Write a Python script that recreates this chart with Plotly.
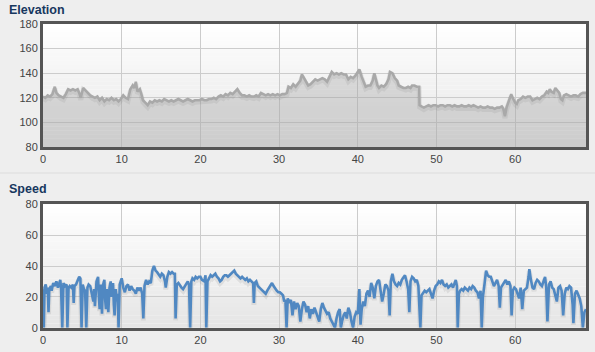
import plotly.graph_objects as go

# ---------------- data ----------------
elev_x = [0.0,0.3,0.6,0.9,1.2,1.5,1.7,2.0,2.3,2.6,2.9,3.2,3.5,3.8,4.1,4.4,4.6,4.8,5.1,5.4,5.7,6.0,6.3,6.6,6.9,7.2,7.5,7.8,8.1,8.4,8.7,9.0,9.3,9.6,9.9,10.2,10.5,10.8,11.1,11.4,11.6,11.8,12.0,12.3,12.5,12.7,13.0,13.3,13.6,13.9,14.2,14.5,14.8,15.1,15.4,15.7,16.0,16.3,16.6,16.9,17.2,17.5,17.8,18.1,18.4,18.7,19.0,19.3,19.6,19.9,20.2,20.5,20.8,21.1,21.4,21.7,22.0,22.3,22.6,22.9,23.2,23.5,23.8,24.1,24.4,24.7,25.0,25.3,25.6,25.9,26.2,26.5,26.8,27.1,27.4,27.7,28.0,28.3,28.6,28.9,29.2,29.5,29.8,30.1,30.4,30.7,31.0,31.2,31.5,31.8,32.1,32.4,32.7,32.9,33.1,33.4,33.7,34.0,34.3,34.6,34.9,35.2,35.5,35.8,36.1,36.4,36.7,37.0,37.3,37.6,37.9,38.2,38.5,38.8,39.1,39.4,39.7,40.0,40.2,40.5,40.8,41.0,41.3,41.6,41.9,42.1,42.3,42.5,42.7,43.0,43.3,43.6,43.9,44.1,44.4,44.7,45.0,45.2,45.5,45.8,46.1,46.4,46.7,46.9,47.2,47.5,47.8,47.85,48.1,48.4,48.7,49.0,49.3,49.6,49.9,50.2,50.5,50.8,51.1,51.4,51.7,52.0,52.3,52.6,52.9,53.2,53.5,53.8,54.1,54.4,54.7,55.0,55.3,55.6,55.9,56.2,56.5,56.8,57.1,57.4,57.7,58.0,58.3,58.5,58.7,58.9,59.1,59.3,59.5,59.6,59.8,60.0,60.2,60.4,60.7,61.0,61.3,61.6,61.9,62.2,62.5,62.8,63.1,63.4,63.7,64.0,64.2,64.4,64.6,64.9,65.1,65.3,65.6,65.8,66.0,66.2,66.5,66.8,67.1,67.4,67.7,68.0,68.3,68.6,69.0]
elev_y = [121,120,122,121,123,129,124,122,121,120,123,127,126,127,126,127,124,120,128,126,124,122,121,120,121,118,120,117,119,118,120,118,119,117,119,122,120,119,127,130,128,133,125,127,123,118,116,114,117,116,118,117,118,117,119,118,117,118,117,118,119,118,117,118,119,118,117,118,118,118,119,118,118,119,119,120,119,121,122,121,123,122,124,123,125,127,124,122,122,121,122,121,121,122,121,124,123,122,123,122,123,122,123,122,123,123,124,129,128,131,129,132,134,139,137,134,130,131,133,135,134,135,136,135,133,137,141,139,140,139,140,139,139,135,137,136,138,141,143,137,131,129,130,130,134,140,135,130,128,130,129,131,135,141,140,136,134,130,129,128,128,129,128,130,130,129,129,114,113,112,113,114,113,114,114,113,114,114,113,114,114,113,114,113,113,114,113,113,114,113,114,113,112,113,112,112,113,112,112,111,112,112,113,111,105,112,116,121,123,121,118,116,115,118,119,121,120,121,121,118,119,120,119,121,122,125,124,127,125,124,128,126,124,119,118,122,123,122,121,122,122,121,123,124,124]

speed_x = [0.0,0.05,0.1,0.2,0.35,0.5,0.6,0.7,0.8,1.0,1.1,1.3,1.5,1.7,1.9,2.1,2.2,2.3,2.45,2.6,2.8,3.0,3.1,3.25,3.4,3.6,3.8,3.9,4.0,4.2,4.4,4.6,4.75,4.9,5.05,5.2,5.35,5.5,5.65,5.8,6.0,6.2,6.4,6.5,6.6,6.8,7.0,7.1,7.2,7.35,7.5,7.6,7.8,7.9,8.0,8.1,8.3,8.45,8.6,8.7,8.9,9.0,9.1,9.25,9.4,9.5,9.6,9.75,9.9,10.0,10.2,10.4,10.6,10.8,11.0,11.2,11.4,11.6,11.8,12.0,12.2,12.4,12.6,12.75,12.9,13.1,13.3,13.5,13.7,13.9,14.1,14.3,14.5,14.7,14.9,15.1,15.3,15.5,15.6,15.8,16.0,16.2,16.4,16.6,16.75,16.85,17.0,17.2,17.4,17.6,17.8,18.0,18.2,18.4,18.55,18.7,18.85,19.0,19.2,19.4,19.6,19.8,20.0,20.2,20.5,20.65,20.75,20.9,21.1,21.3,21.5,21.7,21.9,22.1,22.3,22.5,22.7,22.9,23.1,23.3,23.5,23.7,23.9,24.1,24.3,24.5,24.7,24.9,25.1,25.3,25.5,25.7,25.9,26.1,26.3,26.5,26.7,26.8,26.9,27.1,27.3,27.5,27.7,27.9,28.1,28.3,28.5,28.7,28.9,29.1,29.3,29.5,29.7,29.9,30.1,30.3,30.5,30.65,30.8,30.95,31.1,31.3,31.5,31.7,31.9,32.1,32.3,32.5,32.7,32.9,33.1,33.3,33.5,33.7,33.9,34.1,34.3,34.5,34.7,34.9,35.1,35.3,35.5,35.7,35.9,36.1,36.3,36.5,36.7,36.9,37.1,37.3,37.5,37.7,37.85,38.0,38.2,38.4,38.6,38.8,39.0,39.2,39.4,39.6,39.8,40.0,40.2,40.35,40.5,40.7,40.9,41.1,41.3,41.5,41.7,41.9,42.1,42.3,42.5,42.7,42.9,43.1,43.3,43.5,43.7,43.9,44.05,44.2,44.4,44.6,44.8,45.0,45.2,45.4,45.6,45.8,46.0,46.2,46.4,46.55,46.7,46.9,47.1,47.3,47.5,47.7,47.85,47.95,48.1,48.3,48.5,48.7,48.9,49.1,49.3,49.5,49.7,49.9,50.1,50.3,50.5,50.7,50.9,51.1,51.3,51.5,51.7,51.9,52.1,52.3,52.45,52.6,52.7,52.85,53.0,53.2,53.4,53.6,53.8,54.0,54.2,54.4,54.6,54.8,55.0,55.2,55.4,55.6,55.75,55.9,56.1,56.3,56.5,56.7,56.9,57.1,57.3,57.5,57.7,57.9,58.05,58.2,58.4,58.6,58.8,59.0,59.2,59.4,59.55,59.7,59.9,60.1,60.3,60.5,60.7,60.9,61.1,61.3,61.5,61.7,61.8,62.0,62.2,62.4,62.6,62.8,63.0,63.2,63.4,63.6,63.8,63.95,64.1,64.3,64.5,64.7,64.9,65.1,65.3,65.5,65.7,65.9,66.1,66.3,66.5,66.7,66.9,67.1,67.3,67.4,67.6,67.8,68.0,68.2,68.4,68.6,68.8,69.0]
speed_y = [25,24,0,26,28,22,26,10,25,27,24,29,27,30,26,30,31,25,0,29,27,28,0,26,27,26,28,16,27,28,30,33,32,0,28,25,24,0,26,28,27,22,17,25,14,30,33,20,12,28,9,27,31,18,12,25,10,26,30,20,29,15,8,25,17,22,0,28,31,32,26,23,27,28,24,27,25,24,22,26,24,26,22,6,27,31,28,30,29,37,40,37,36,34,33,35,34,30,26,33,36,35,36,35,35,6,28,29,27,26,25,27,29,30,28,0,30,32,31,33,32,33,33,31,30,34,0,30,32,34,33,34,35,33,32,30,31,33,34,34,33,34,35,36,37,35,34,33,32,33,32,31,32,30,31,30,29,16,29,30,27,26,25,24,23,22,24,26,28,29,27,25,24,23,23,22,21,17,18,0,19,16,18,8,17,12,16,14,4,12,17,15,10,14,6,12,9,13,10,7,4,12,16,13,11,9,10,6,4,2,0,6,10,12,0,4,8,10,6,13,10,4,0,7,10,9,25,2,12,17,14,22,24,20,29,26,19,27,30,31,24,17,22,28,27,24,8,30,35,30,28,27,29,28,31,33,34,30,25,10,30,33,32,30,31,27,12,0,21,23,24,23,24,25,22,19,24,27,28,30,29,31,28,27,28,26,27,28,26,29,31,27,0,22,24,25,24,26,25,24,26,25,27,26,24,23,19,24,0,20,28,37,34,33,33,30,27,29,31,27,13,26,28,30,31,28,30,27,8,24,26,25,22,19,26,12,24,25,26,33,38,31,26,25,29,31,30,28,27,30,33,26,4,28,30,26,25,21,17,26,27,24,8,22,26,25,27,26,15,3,22,24,21,19,14,0,10,12]

x_ticks = [0, 10, 20, 30, 40, 50, 60]
elev_ticks = [80, 100, 120, 140, 160, 180]
speed_ticks = [0, 20, 40, 60, 80]
titles = ["Elevation", "Speed"]

# ---------------- layout geometry ----------------
W, H = 595, 352
xdom = [43 / W, 586 / W]
elev_dom = [1 - 147 / H, 1 - 24 / H]
speed_dom = [1 - 327.7 / H, 1 - 204.3 / H]

fig = go.Figure()

# shadows + lines
fig.add_trace(go.Scatter(x=elev_x, y=[v - 1.6 for v in elev_y], mode="lines",
                         line=dict(color="rgba(0,0,0,0.07)", width=5),
                         xaxis="x", yaxis="y", hoverinfo="skip", showlegend=False))
fig.add_trace(go.Scatter(x=elev_x, y=elev_y, mode="lines", fill="tozeroy",
                         fillcolor="rgba(150,150,150,0.30)",
                         line=dict(color="#a9a9a9", width=2.6, shape="linear"),
                         xaxis="x", yaxis="y", showlegend=False, name="Elevation"))
fig.add_trace(go.Scatter(x=speed_x, y=[v - 1.2 for v in speed_y], mode="lines",
                         line=dict(color="rgba(0,0,0,0.07)", width=5),
                         xaxis="x2", yaxis="y2", hoverinfo="skip", showlegend=False))
fig.add_trace(go.Scatter(x=speed_x, y=speed_y, mode="lines",
                         line=dict(color="#5088c2", width=2.6),
                         xaxis="x2", yaxis="y2", showlegend=False, name="Speed"))

# gradient backgrounds inside the plot areas
shapes = []
N = 30
for xr, yr in (("x domain", "y domain"), ("x2 domain", "y2 domain")):
    for i in range(N):
        t = (i + 0.5) / N  # 0 top .. 1 bottom
        c = int(round(255 - 26 * t))
        shapes.append(dict(type="rect", xref=xr, yref=yr, x0=0, x1=1,
                           y0=1 - (i + 1) / N, y1=1 - i / N + 0.001,
                           fillcolor=f"rgb({c},{c},{c})", line=dict(width=0),
                           layer="below"))
# separator line between the two charts
shapes.append(dict(type="line", xref="paper", yref="paper", x0=0, x1=1,
                   y0=1 - 173 / H, y1=1 - 173 / H,
                   line=dict(color="#dcdcdc", width=1)))

tickfont = dict(family="Liberation Sans, Arial, sans-serif", size=11, color="#444444")
axis_common = dict(showline=True, mirror=True, linecolor="#555555", linewidth=3,
                   showgrid=True, gridcolor="#cccccc", gridwidth=1, zeroline=False,
                   ticks="", tickfont=tickfont, automargin=False, fixedrange=True)

annotations = [
    dict(text="<b>" + titles[0] + "</b>", x=7 / W, y=1 - 10 / H, xref="paper", yref="paper",
         xanchor="left", yanchor="middle", showarrow=False,
         font=dict(family="Liberation Sans, Arial, sans-serif", size=12.5, color="#17375e")),
    dict(text="<b>" + titles[1] + "</b>", x=7 / W, y=1 - 189 / H, xref="paper", yref="paper",
         xanchor="left", yanchor="middle", showarrow=False,
         font=dict(family="Liberation Sans, Arial, sans-serif", size=12.5, color="#17375e")),
]

fig.update_layout(
    width=W, height=H,
    margin=dict(l=0, r=0, t=0, b=0),
    paper_bgcolor="#eeeeee",
    plot_bgcolor="#ffffff",
    showlegend=False,
    shapes=shapes,
    annotations=annotations,
    xaxis=dict(domain=xdom, range=[0, 69], tickvals=x_ticks, anchor="y", **axis_common),
    yaxis=dict(domain=elev_dom, range=[80, 180], tickvals=elev_ticks, anchor="x", **axis_common),
    xaxis2=dict(domain=xdom, range=[0, 69], tickvals=x_ticks, anchor="y2", **axis_common),
    yaxis2=dict(domain=speed_dom, range=[0, 80], tickvals=speed_ticks, anchor="x2", **axis_common),
)

fig.write_html("out.html", config={"displayModeBar": False})
